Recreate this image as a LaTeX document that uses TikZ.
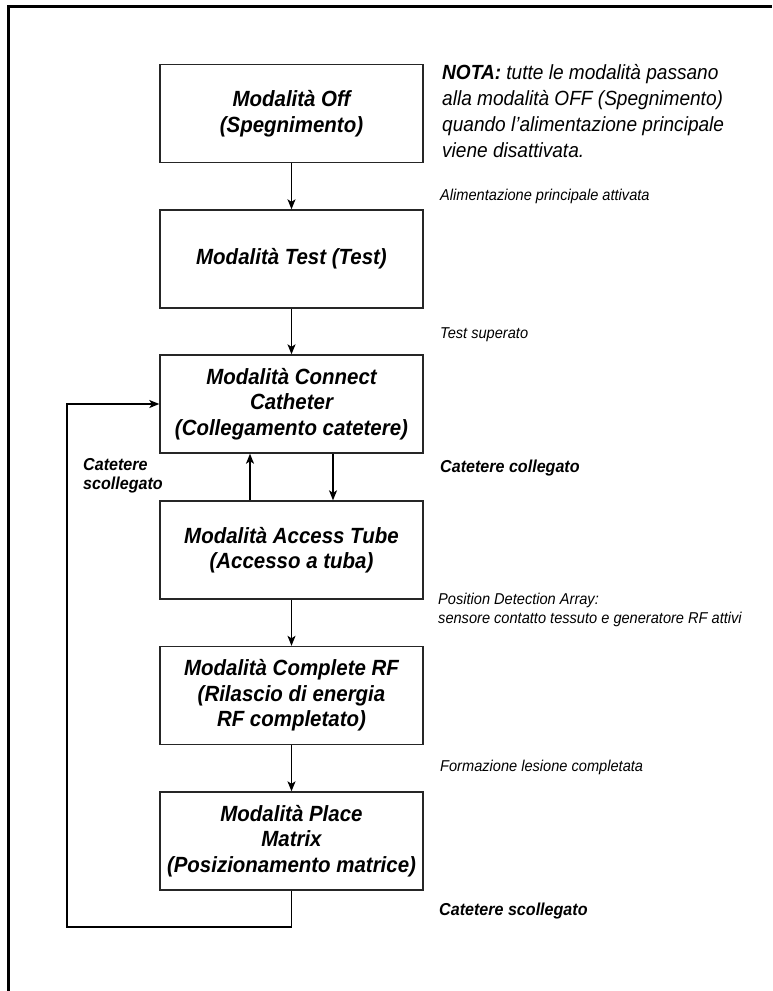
\documentclass[tikz,border=0pt]{standalone}
\usepackage{fontspec}
\setmainfont{Liberation Sans}[FakeStretch=0.93, BoldFeatures={FakeBold=1.2}]
\usetikzlibrary{arrows.meta}

\begin{document}
\begin{tikzpicture}[x=1pt,y=-1pt,
  mode/.style={draw=black!85, line width=1.4pt, minimum width=263pt,
    minimum height=98pt, align=center, inner sep=0pt,
    font=\fontsize{22}{25.5}\selectfont\bfseries\itshape},
  flow/.style={line width=1.2pt, -{Stealth[length=10pt,width=8pt,inset=2.5pt]}},
  lbl/.style={anchor=base west, align=left, inner sep=0pt,
    font=\fontsize{15.7}{18.5}\selectfont\itshape},
  blbl/.style={lbl, font=\fontsize{17.3}{19}\selectfont\bfseries\itshape}]

\useasboundingbox (0,0) rectangle (772,991);

% outer frame (open to the right and bottom)
\draw[line width=2.6pt] (8.7,991) -- (8.7,6.2) -- (772,6.2);

% mode boxes
\node[mode] (off)     at (291.5,113.5) {Modalità Off\\(Spegnimento)};
\node[mode] (test)    at (291.5,259)   {Modalità Test (Test)};
\node[mode] (connect) at (291.5,404)   {Modalità Connect\\Catheter\\(Collegamento catetere)};
\node[mode] (access)  at (291.5,550)   {Modalità Access Tube\\(Accesso a tuba)};
\node[mode] (rf)      at (291.5,695.5) {Modalità Complete RF\\(Rilascio di energia\\RF completato)};
\node[mode] (place)   at (291.5,841)   {Modalità Place\\Matrix\\(Posizionamento matrice)};

% transitions
\draw[flow] (off) -- (test);
\draw[flow] (test) -- (connect);
\draw[flow] ([xshift=41.5pt]connect.south) -- ([xshift=41.5pt]access.north);
\draw[flow] ([xshift=-41.5pt]access.north) -- ([xshift=-41.5pt]connect.south);
\draw[flow] (access) -- (rf);
\draw[flow] (rf) -- (place);

% return path when the catheter is disconnected
\coordinate (loopbl) at (67,927);
\coordinate (looptl) at (67,404);
\draw[flow] (place.south) |- (loopbl) -- (looptl) -- (connect.west);

% note (multi-line nodes sit on the baseline of their last line)
\node[anchor=base west, align=left, inner sep=0pt,
  font=\fontsize{20.5}{25.7}\selectfont\itshape] (note) at (442,157)
  {\textbf{NOTA:} tutte le modalità passano\\alla modalità OFF (Spegnimento)\\quando l'alimentazione principale\\viene disattivata.};

% transition labels
\node[lbl]  (l1) at (440,200) {Alimentazione principale attivata};
\node[lbl]  (l2) at (440,338) {Test superato};
\node[blbl] (l3) at (440,472) {Catetere collegato};
\node[lbl]  (l4) at (438,623) {Position Detection Array:\\sensore contatto tessuto e generatore RF attivi};
\node[lbl]  (l5) at (440,771) {Formazione lesione completata};
\node[blbl] (l6) at (439,915) {Catetere scollegato};
\node[blbl] (l7) at (83,489)  {Catetere\\scollegato};
\end{tikzpicture}
\end{document}
